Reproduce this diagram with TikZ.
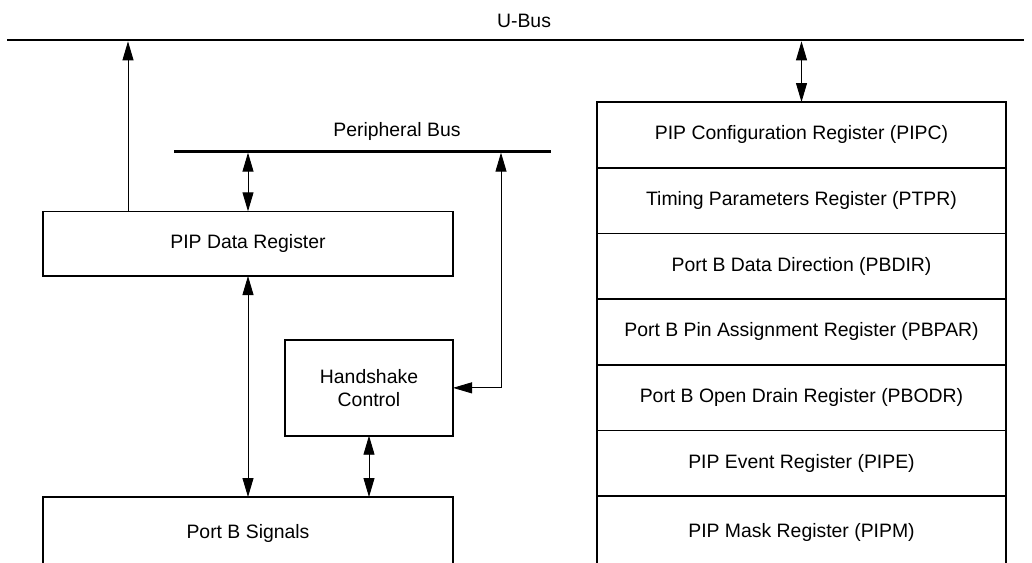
\documentclass[tikz,border=0pt]{standalone}
\usepackage{fontspec}
\setmainfont{Liberation Sans}
\usepackage{tikz}
\usetikzlibrary{arrows.meta}
\usetikzlibrary{positioning}

\begin{document}
\begin{tikzpicture}[
    x=1pt, y=-1pt,
    >={Triangle[length=19pt,width=11pt]},
    every node/.style={font=\fontsize{19.4}{23}\selectfont},
    regbox/.style={draw, line width=1.6pt, outer sep=0pt, anchor=north west, align=center},
    regrow/.style={regbox, minimum width=409pt, minimum height=65.7pt},
    bus/.style={line width=2.7pt},
    arr/.style={->, line width=0.9pt},
    dblarr/.style={<->, line width=0.9pt}
]
\useasboundingbox (0,0) rectangle (1032,562);
\clip (0,0) rectangle (1032,562);

% Buses
\coordinate (ubusW) at (7,40);
\coordinate (ubusE) at (1024,40);
\coordinate (pbusW) at (174,151.3);
\coordinate (pbusE) at (551,151.3);
\draw[bus] (ubusW) -- (ubusE);
\draw[bus] (pbusW) -- (pbusE);
\node (ubuslbl) at (524,20.7) {U-Bus};
\node (pbuslbl) at (397,131.7) {Peripheral Bus};

% Tap points on the buses
\coordinate (ubusA) at (128,41.35);
\coordinate (ubusB) at (801.5,41.35);
\coordinate (pbusA) at (248,152.65);
\coordinate (pbusB) at (501,152.65);

% Left: data path
\node[regbox, minimum width=410pt, minimum height=64.7pt] (dreg) at (43,211.3) {PIP Data Register};
\node[regbox, minimum width=168pt, minimum height=95.7pt] (hsk) at (285,340) {Handshake\\Control};
\node[regbox, minimum width=410pt, minimum height=72pt] (portb) at (43,497) {Port B Signals};

\draw[arr] (ubusA |- dreg.north) -- (ubusA);
\draw[dblarr] (pbusA) -- (dreg.north);
\draw[dblarr] (dreg.south) -- (portb.north);
\draw[dblarr] (hsk.south) -- (hsk.south |- portb.north);
\draw[dblarr] (hsk.east) -| (pbusB);

% Right: register stack
\node[regrow] (pipc) at (597,102) {PIP Configuration Register (PIPC)};
\node[regrow, below=0pt of pipc] (ptpr) {Timing Parameters Register (PTPR)};
\node[regrow, below=0pt of ptpr] (pbdir) {Port B Data Direction (PBDIR)};
\node[regrow, below=0pt of pbdir] (pbpar) {Port B Pin Assignment Register (PBPAR)};
\node[regrow, below=0pt of pbpar] (pbodr) {Port B Open Drain Register (PBODR)};
\node[regrow, below=0pt of pbodr] (pipe) {PIP Event Register (PIPE)};
\node[regrow, below=0pt of pipe, minimum height=72pt] (pipm) {PIP Mask Register (PIPM)};

\draw[dblarr] (ubusB) -- (pipc.north);

\end{tikzpicture}
\end{document}
